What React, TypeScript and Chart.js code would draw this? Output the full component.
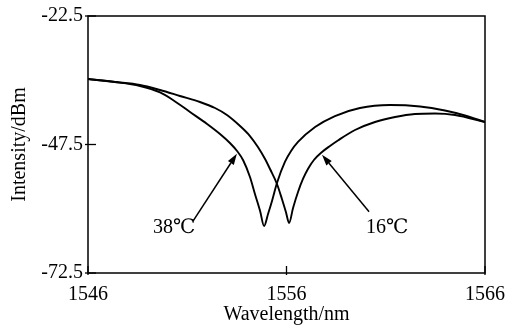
import React, { useEffect, useRef } from "react";
import { Chart, registerables } from "chart.js";

Chart.register(...registerables);

// ---- data ----
const wavelength38 = [1546.0, 1547.36, 1548.62, 1549.63, 1550.28, 1551.14, 1552.0, 1552.65, 1553.15, 1553.51, 1553.81, 1554.16, 1554.41, 1554.67, 1554.87, 1555.07, 1555.27, 1555.52, 1555.92, 1556.23, 1556.58, 1557.44, 1558.44, 1559.7, 1561.21, 1562.73, 1563.98, 1564.99, 1566.0];
const intensity38 = [-34.76, -35.34, -36.12, -37.38, -38.84, -41.18, -43.51, -45.46, -47.21, -48.77, -50.52, -53.82, -57.13, -60.44, -63.36, -61.02, -58.49, -54.99, -50.9, -48.77, -47.01, -44.1, -41.96, -40.4, -39.82, -40.11, -40.89, -41.86, -43.12];

const wavelength16 = [1546.0, 1547.36, 1548.62, 1549.63, 1550.63, 1551.64, 1552.4, 1553.0, 1553.66, 1554.16, 1554.56, 1554.92, 1555.17, 1555.52, 1555.77, 1555.97, 1556.13, 1556.33, 1556.58, 1556.83, 1557.08, 1557.38, 1557.79, 1558.19, 1558.59, 1559.45, 1560.46, 1561.47, 1562.47, 1563.48, 1564.49, 1566.0];
const intensity16 = [-34.76, -35.34, -35.92, -36.9, -38.06, -39.23, -40.4, -41.76, -43.9, -45.85, -47.99, -50.32, -52.27, -55.18, -58.1, -60.63, -62.77, -59.85, -56.74, -54.21, -52.27, -50.52, -48.96, -47.79, -46.72, -44.68, -43.12, -42.15, -41.57, -41.47, -41.76, -43.12];

const xTicks = [1546, 1556, 1566];
const yTicks = [-72.5, -47.5, -22.5];
const seriesLabels = ["38℃", "16℃"];
const xTitle = "Wavelength/nm";
const yTitle = "Intensity/dBm";

// annotation anchors, in data units
const annotations = [
  { text: seriesLabels[0], tip: [1553.5, -49.3], tail: [1551.29, -62.4], label: [1549.27, -64.7] },
  { text: seriesLabels[1], tip: [1557.79, -49.5], tail: [1560.16, -60.6], label: [1560.0, -64.7] },
];

const FONT_FAMILY = "'Liberation Serif', 'Times New Roman', 'DejaVu Serif', serif";
const FONT_SIZE = 20;

const framePlugin = {
  id: "frame",
  afterDraw(chart: any) {
    const { ctx, chartArea: a, scales } = chart;
    ctx.save();
    ctx.strokeStyle = "#000";
    ctx.fillStyle = "#000";
    ctx.lineWidth = 1.5;
    ctx.strokeRect(a.left, a.top, a.right - a.left, a.bottom - a.top);

    ctx.lineWidth = 1.3;
    xTicks.forEach((v) => {
      const px = scales.x.getPixelForValue(v);
      ctx.beginPath();
      ctx.moveTo(px, a.bottom + 2);
      ctx.lineTo(px, a.bottom - 7);
      ctx.stroke();
    });
    yTicks.forEach((v) => {
      const py = scales.y.getPixelForValue(v);
      ctx.beginPath();
      ctx.moveTo(a.left - 3, py);
      ctx.lineTo(a.left + 8, py);
      ctx.stroke();
    });

    ctx.font = `${FONT_SIZE}px ${FONT_FAMILY}`;
    ctx.textAlign = "left";
    ctx.textBaseline = "alphabetic";
    annotations.forEach((an) => {
      const tx = scales.x.getPixelForValue(an.tip[0]);
      const ty = scales.y.getPixelForValue(an.tip[1]);
      const sx = scales.x.getPixelForValue(an.tail[0]);
      const sy = scales.y.getPixelForValue(an.tail[1]);
      const ang = Math.atan2(ty - sy, tx - sx);
      const headLen = 11;
      const headHalf = 3.5;
      const bx = tx - headLen * Math.cos(ang);
      const by = ty - headLen * Math.sin(ang);
      ctx.lineWidth = 1.5;
      ctx.beginPath();
      ctx.moveTo(sx, sy);
      ctx.lineTo(bx, by);
      ctx.stroke();
      ctx.beginPath();
      ctx.moveTo(tx, ty);
      ctx.lineTo(bx + headHalf * Math.sin(ang), by - headHalf * Math.cos(ang));
      ctx.lineTo(bx - headHalf * Math.sin(ang), by + headHalf * Math.cos(ang));
      ctx.closePath();
      ctx.fill();
      const lx = scales.x.getPixelForValue(an.label[0]);
      const ly = scales.y.getPixelForValue(an.label[1]);
      ctx.fillText(an.text, lx, ly);
    });
    ctx.restore();
  },
};

export default function App() {
  const canvasRef = useRef<HTMLCanvasElement | null>(null);

  useEffect(() => {
    if (!canvasRef.current) return;
    const font = { family: FONT_FAMILY, size: FONT_SIZE };
    const chart = new Chart(canvasRef.current, {
      type: "line",
      data: {
        datasets: [
          {
            label: seriesLabels[0],
            data: wavelength38.map((x, i) => ({ x, y: intensity38[i] })),
            borderColor: "#000",
            borderWidth: 1.9,
            pointRadius: 0,
            cubicInterpolationMode: "monotone",
            fill: false,
          },
          {
            label: seriesLabels[1],
            data: wavelength16.map((x, i) => ({ x, y: intensity16[i] })),
            borderColor: "#000",
            borderWidth: 1.9,
            pointRadius: 0,
            cubicInterpolationMode: "monotone",
            fill: false,
          },
        ],
      },
      options: {
        animation: false,
        responsive: true,
        maintainAspectRatio: false,
        layout: { padding: { top: 16, right: 23, left: 0, bottom: 0 } },
        plugins: { legend: { display: false }, tooltip: { enabled: false } },
        scales: {
          x: {
            type: "linear",
            min: 1546,
            max: 1566,
            afterBuildTicks: (s: any) => {
              s.ticks = xTicks.map((value) => ({ value }));
            },
            afterFit: (s: any) => {
              s.height = 54;
              s.paddingLeft = 0;
              s.paddingRight = 0;
            },
            ticks: { color: "#000", font, padding: 10, maxRotation: 0, callback: (v: any) => String(v) },
            grid: { display: false, drawTicks: false },
            border: { display: false },
            title: { display: true, text: xTitle, color: "#000", font, padding: { top: 0, bottom: 0 } },
          },
          y: {
            type: "linear",
            min: -72.5,
            max: -22.5,
            afterBuildTicks: (s: any) => {
              s.ticks = yTicks.map((value) => ({ value }));
            },
            afterFit: (s: any) => {
              s.width = 88;
              s.paddingTop = 0;
              s.paddingBottom = 0;
            },
            ticks: { color: "#000", font, padding: 5, callback: (v: any) => String(v) },
            grid: { display: false, drawTicks: false },
            border: { display: false },
            title: { display: true, text: yTitle, color: "#000", font, padding: { top: 8, bottom: 0 } },
          },
        },
      },
      plugins: [framePlugin],
    } as any);
    return () => chart.destroy();
  }, []);

  return (
    <div style={{ position: "fixed", left: 0, top: 0, width: 508, height: 327, background: "#fff" }}>
      <canvas ref={canvasRef} />
    </div>
  );
}
